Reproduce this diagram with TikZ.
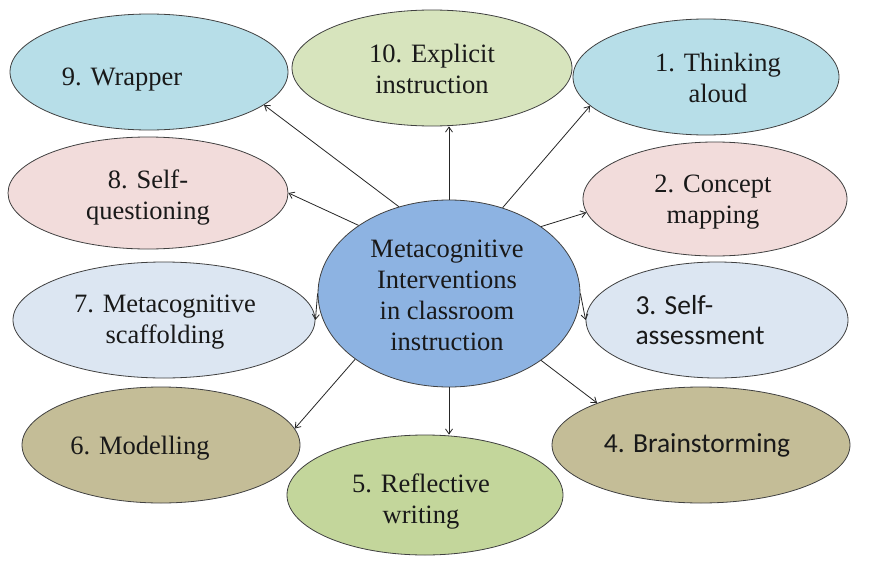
\documentclass[tikz,border=0pt]{standalone}
\usepackage{fontspec}
\setmainfont{Liberation Serif}
\newfontfamily\serfont{Liberation Serif}
\newfontfamily\calfont{Carlito}
\usetikzlibrary{shapes.geometric,arrows.meta}
\definecolor{cblue}{HTML}{B7DEE8}
\definecolor{cgreen}{HTML}{D7E4BD}
\definecolor{cgreenb}{HTML}{C3D69B}
\definecolor{cpink}{HTML}{F2DCDB}
\definecolor{cpale}{HTML}{DCE6F2}
\definecolor{ctan}{HTML}{C4BD97}
\definecolor{ccenter}{HTML}{8DB3E2}
\begin{document}
\begin{tikzpicture}[x=1pt,y=-1pt,
  ov/.style={ellipse,draw=black!75,line width=0.8pt,inner sep=0pt},
  lbl/.style={align=center,font=\serfont\fontsize{26.5}{31}\selectfont,text=black!90,inner sep=0pt},
  lblc/.style={align=left,font=\calfont\fontsize{27.5}{30}\selectfont,text=black!90,inner sep=0pt},
  conn/.style={draw=black!85,line width=0.8pt,-{Straight Barb[length=5pt,width=7pt]}}]
\useasboundingbox (0,0) rectangle (881,562);
\fill[white] (0,0) rectangle (881,562);
% ellipses
\node[ov,fill=cblue,minimum width=278pt,minimum height=116pt] (e9) at (149,72) {};
\node[ov,fill=cgreen,minimum width=280pt,minimum height=116pt] (e10) at (432,68) {};
\node[ov,fill=cblue,minimum width=266pt,minimum height=116pt] (e1) at (706,77) {};
\node[ov,fill=cpink,minimum width=280pt,minimum height=112pt] (e8) at (148,193) {};
\node[ov,fill=cpink,minimum width=264pt,minimum height=114pt] (e2) at (715,199) {};
\node[ov,fill=cpale,minimum width=302pt,minimum height=116pt] (e7) at (164,320) {};
\node[ov,fill=cpale,minimum width=262pt,minimum height=116pt] (e3) at (717,320) {};
\node[ov,fill=ctan,minimum width=278pt,minimum height=116pt] (e6) at (161,445) {};
\node[ov,fill=ctan,minimum width=298pt,minimum height=116pt] (e4) at (701,445) {};
\node[ov,fill=cgreenb,minimum width=276pt,minimum height=120pt] (e5) at (425,495) {};
\node[ov,fill=ccenter,minimum width=262pt,minimum height=187pt] (c) at (449,293.5) {};
% labels
\node[lbl] (t9) at (122,80) {9. Wrapper};
\node[lbl] (t10) at (432,68.5) {10. Explicit\\instruction};
\node[lbl] (t1) at (718,77.5) {1. Thinking\\aloud};
\node[lbl] (t8) at (148,197.5) {8. Self-\\questioning};
\node[lbl] (t2) at (713,202.5) {2. Concept\\mapping};
\node[lbl] (tc) at (447,295) {Metacognitive\\Interventions\\in classroom\\instruction};
\node[lbl] (t7) at (165,322.5) {7. Metacognitive\\scaffolding};
\node[lblc] (t3) at (700,320) {3. Self-\\assessment};
\node[lbl] (t6) at (140,448) {6. Modelling};
\node[lblc] (t4) at (697,445) {4. Brainstorming};
\node[lbl] (t5) at (421,501.5) {5. Reflective\\writing};
% connectors
\draw[conn] (c.120.5) -- (e9.-16.5);
\draw[conn] (c.north) -- (c.north |- e10.south);
\draw[conn] (c.58.3) -- (e1.194.9);
\draw[conn] (c.143.7) -- (e8.0);
\draw[conn] (c.36) -- (e2.186);
\draw[conn] (c.west) -- (e7.east);
\draw[conn] (c.east) -- (e3.west);
\draw[conn] (c.215.9) -- (e6.7.5);
\draw[conn] (c.-36) -- (e4.158.5);
\draw[conn] (c.south) -- (c.south |- e5.north);
\end{tikzpicture}
\end{document}
